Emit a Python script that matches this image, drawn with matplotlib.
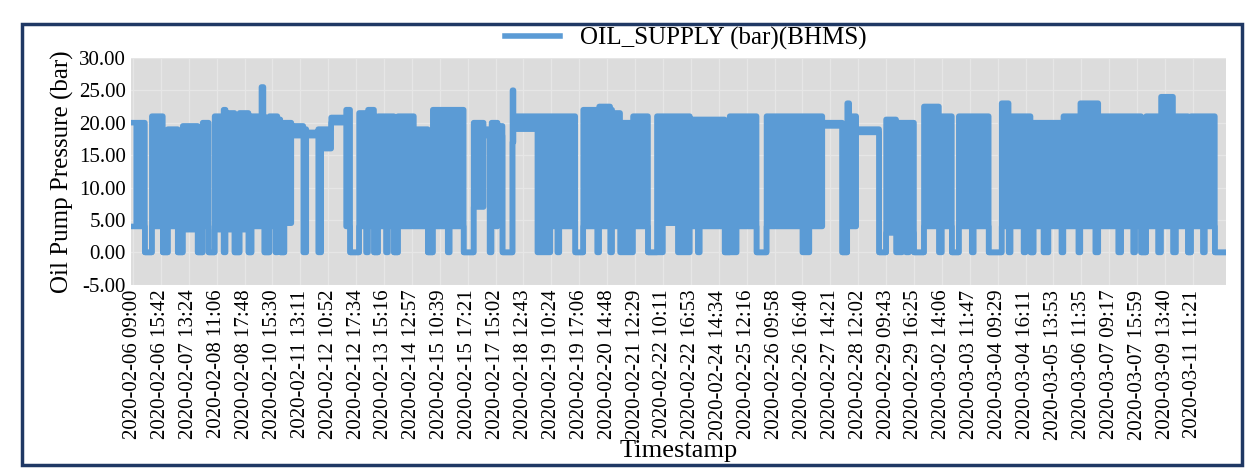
import matplotlib
matplotlib.use("Agg")
import matplotlib.pyplot as plt
from matplotlib.lines import Line2D
from matplotlib.patches import Rectangle

plt.rcParams["font.family"] = ["Liberation Serif", "DejaVu Serif"]
plt.rcParams["hatch.color"] = "#f0f0f0"
plt.rcParams["hatch.linewidth"] = 2.0

# The logger samples far faster than the chart can show, so the series is kept
# as runs of samples: end index of each run, run max and run min (bar).
seg_end = [
    12, 19, 30, 35, 45, 50, 65, 70, 76, 82, 91, 93, 102, 107, 116, 119, 129, 131, 132, 137,
    143, 145, 148, 152, 159, 171, 174, 186, 189, 199, 214, 218, 227, 234, 236, 242, 246, 254,
    256, 262, 266, 282, 296, 301, 316, 318, 332, 342, 352, 358, 360, 364, 366, 371, 381, 382,
    406, 419, 426, 428, 444, 452, 466, 468, 479, 481, 489, 502, 517, 526, 532, 547, 559, 567,
    569, 594, 599, 606, 626, 636, 659, 672, 679, 692, 712, 717, 719, 726, 749, 756, 766, 772,
    776, 779, 784, 794, 809, 812, 822, 829, 842, 844, 859, 872, 879, 881, 894, 896, 901, 904,
    914, 919, 932, 934, 949, 951, 966, 969, 976, 989, 992, 1004, 1006, 1012, 1017, 1029, 1032,
    1044, 1047, 1059, 1062, 1074, 1076, 1086, 1095,
]
seg_high = [
    20, 0, 21, 0, 19, 0, 19.5, 0, 20, 0, 21, 22, 21.5, 0, 21.5, 0, 21, 25.5, 21, 0,
    21, 21, 20.5, 0, 20, 19.5, 19, 18.5, 19, 19, 20.8, 22, 0, 21.5, 21.5, 22, 0, 21,
    21, 21, 0, 21, 19, 0, 22, 22, 22, 0, 20, 19, 19, 20, 20, 19.5, 0, 25,
    21, 21, 21, 21, 21, 0, 22, 22, 22.5, 22, 21.5, 20, 21, 0, 21, 21, 21, 20.5,
    20.5, 20.5, 0, 21, 21, 0, 21, 21, 21, 21, 20, 0, 23, 21, 19, 0, 20.5, 20,
    20, 20, 20, 0, 22.5, 21, 21, 0, 21, 21, 21, 0, 23, 21, 21, 21, 21, 0,
    20, 20, 20, 20, 21, 21, 23, 23, 21, 21, 21, 21, 21, 21, 0, 21, 21,
    24, 21, 21, 0, 21, 21, 21, 0,
]
seg_low = [
    4, 0, 4, 0, 4, 0, 3.5, 0, 4, 0, 3.5, 0, 3.5, 0, 3.5, 0, 4, 4, 4, 0,
    4, 0, 4, 0, 4.5, 18, 0, 18, 0, 16, 20, 4, 0, 4, 0, 4, 0, 4,
    0, 4, 0, 4, 4, 0, 4, 0, 4, 0, 7, 18, 0, 18, 4, 18, 0, 17,
    19, 0, 4, 0, 4, 0, 4, 0, 4, 0, 4, 0, 4, 0, 0, 4.5, 0, 4,
    0, 4, 0, 0, 4, 0, 4, 4, 0, 4, 19.5, 0, 4, 4, 18.5, 0, 3, 0,
    3, 0, 3, 0, 4, 0, 4, 0, 4, 0, 4, 0, 4, 0, 4, 0, 4, 0,
    4, 0, 4, 0, 4, 0, 4, 0, 4, 4, 0, 4, 0, 4, 0, 4, 0,
    4, 0, 4, 0, 4, 0, 4, 0,
]

tick_labels = [
    "2020-02-06 09:00", "2020-02-06 15:42", "2020-02-07 13:24", "2020-02-08 11:06",
    "2020-02-08 17:48", "2020-02-10 15:30", "2020-02-11 13:11", "2020-02-12 10:52",
    "2020-02-12 17:34", "2020-02-13 15:16", "2020-02-14 12:57", "2020-02-15 10:39",
    "2020-02-15 17:21", "2020-02-17 15:02", "2020-02-18 12:43", "2020-02-19 10:24",
    "2020-02-19 17:06", "2020-02-20 14:48", "2020-02-21 12:29", "2020-02-22 10:11",
    "2020-02-22 16:53", "2020-02-24 14:34", "2020-02-25 12:16", "2020-02-26 09:58",
    "2020-02-26 16:40", "2020-02-27 14:21", "2020-02-28 12:02", "2020-02-29 09:43",
    "2020-02-29 16:25", "2020-03-02 14:06", "2020-03-03 11:47", "2020-03-04 09:29",
    "2020-03-04 16:11", "2020-03-05 13:53", "2020-03-06 11:35", "2020-03-07 09:17",
    "2020-03-07 15:59", "2020-03-09 13:40", "2020-03-11 11:21",
]
tick_every = 28  # samples between labelled categories

# expand runs to one value per sample
high, low = [], []
start = 0
for end, hi, lo in zip(seg_end, seg_high, seg_low):
    high += [hi] * (end - start)
    low += [lo] * (end - start)
    start = end
high.append(high[-1])
low.append(low[-1])
x = list(range(len(high)))

blue = "#5b9bd5"
fig = plt.figure(figsize=(12.47, 4.7), dpi=100)
fig.patches.append(Rectangle((0.018, 0.01), 0.978, 0.94, transform=fig.transFigure,
                             fill=False, edgecolor="#1f3864", linewidth=2.5))
ax = fig.add_axes([0.105, 0.394, 0.878, 0.483])
ax.patch.set_facecolor("#dcdcdc")
ax.patch.set_hatch("\\\\")

ax.fill_between(x, low, high, step="post", color=blue, linewidth=0)
ax.step(x, high, where="post", color=blue, linewidth=4, solid_joinstyle="round")
ax.step(x, low, where="post", color=blue, linewidth=4, solid_joinstyle="round")

ax.set_xlim(-2, len(high) + 1)
ax.set_ylim(-5, 30)
ax.set_yticks(range(-5, 31, 5))
ax.set_yticklabels([f"{v:.2f}" for v in range(-5, 31, 5)], fontsize=15)
ax.set_xticks(range(0, len(tick_labels) * tick_every, tick_every))
ax.set_xticklabels(tick_labels, rotation=90, fontsize=15)
ax.grid(color="#e6e6e6", linewidth=1)
ax.set_axisbelow(True)
ax.tick_params(length=0)
for s in ax.spines.values():
    s.set_visible(False)
ax.set_ylabel("Oil Pump Pressure (bar)", fontsize=18, labelpad=4)
ax.set_xlabel("Timestamp", fontsize=19, labelpad=0)
handle = Line2D([], [], color=blue, linewidth=4)
fig.legend([handle], ["OIL_SUPPLY (bar)(BHMS)"], loc="upper center",
           bbox_to_anchor=(0.55, 0.99), frameon=False, fontsize=18, handlelength=2.2)
fig.savefig("out.png", dpi=100)
